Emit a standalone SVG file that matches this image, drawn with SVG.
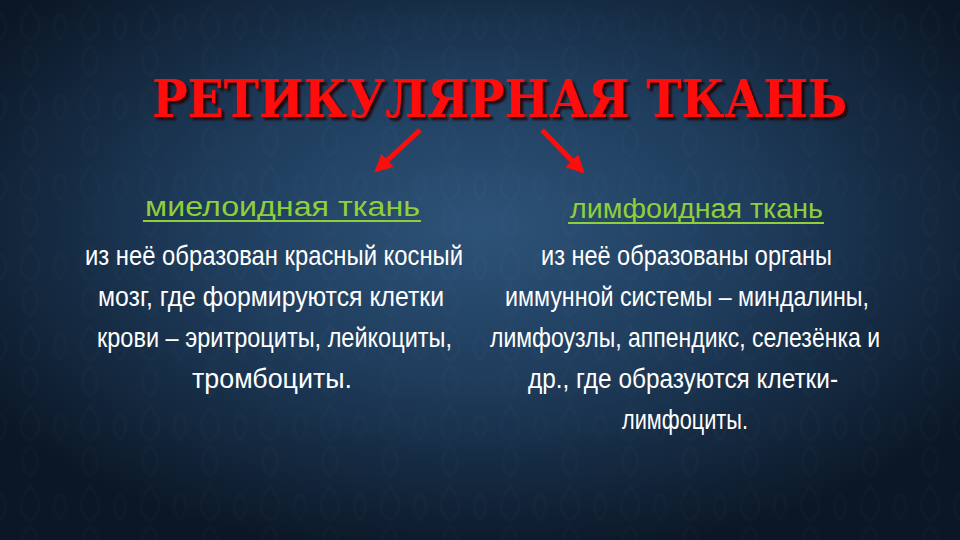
<svg xmlns="http://www.w3.org/2000/svg" width="960" height="540" viewBox="0 0 960 540">
  <defs>
    <radialGradient id="bg" cx="0.5" cy="0.42" r="0.62">
      <stop offset="0" stop-color="#2d5378"/>
      <stop offset="0.45" stop-color="#1f3d5d"/>
      <stop offset="1" stop-color="#0b1726"/>
    </radialGradient>
    <pattern id="damask" width="60" height="80" patternUnits="userSpaceOnUse">
      <path d="M30 6 C42 20 42 34 30 40 C18 34 18 20 30 6 Z M30 46 C40 56 40 68 30 76 C20 68 20 56 30 46 Z M0 40 C8 30 8 20 0 14 M60 40 C52 30 52 20 60 14" fill="none" stroke="#ffffff" stroke-opacity="0.012" stroke-width="3"/>
    </pattern>
    <filter id="shadow" x="-5%" y="-20%" width="110%" height="150%">
      <feDropShadow dx="3" dy="3" stdDeviation="1" flood-color="#200404" flood-opacity="0.9"/>
    </filter>
    <marker id="head" viewBox="0 0 10 10" refX="8" refY="5" markerWidth="3.6" markerHeight="3.6" orient="auto" markerUnits="strokeWidth">
      <path d="M0 0 L10 5 L0 10 Z" fill="#ff0d0d"/>
    </marker>
    <style>
      .title { font-family: "DejaVu Serif", "Liberation Serif", serif; font-weight: bold; font-size: 52px; fill: #ff0a0a; }
      .sub { font-family: "Liberation Sans", "DejaVu Sans", sans-serif; font-size: 27px; fill: #8fcf3a; }
      .body { font-family: "Liberation Sans Narrow", "Liberation Sans", sans-serif; font-size: 28px; fill: #ffffff; }
      .arrow { stroke: #ff0d0d; stroke-width: 5; fill: none; marker-end: url(#head); }
      .ul { stroke: #8fcf3a; stroke-width: 2; }
    </style>
  </defs>

  <rect width="960" height="540" fill="url(#bg)"/>
  <rect width="960" height="540" fill="url(#damask)"/>

  <g id="title">
    <text class="title" x="152" y="117" filter="url(#shadow)" textLength="695" lengthAdjust="spacingAndGlyphs">РЕТИКУЛЯРНАЯ ТКАНЬ</text>
  </g>

  <g id="connectors">
    <line class="arrow" x1="420" y1="130" x2="377" y2="170"/>
    <line class="arrow" x1="542" y1="130" x2="582" y2="171"/>
  </g>

  <g id="myeloid">
    <text class="sub" x="145" y="216" textLength="275" lengthAdjust="spacingAndGlyphs">миелоидная ткань</text>
    <line class="ul" x1="143" y1="221" x2="421" y2="221"/>
    <text class="body" x="85" y="265" textLength="378" lengthAdjust="spacingAndGlyphs">из неё образован красный косный</text>
    <text class="body" x="98" y="306" textLength="346" lengthAdjust="spacingAndGlyphs">мозг, где формируются клетки</text>
    <text class="body" x="97" y="347" textLength="355" lengthAdjust="spacingAndGlyphs">крови – эритроциты, лейкоциты,</text>
    <text class="body" x="192" y="388" textLength="160" lengthAdjust="spacingAndGlyphs">тромбоциты.</text>
  </g>

  <g id="lymphoid">
    <text class="sub" x="570" y="218" textLength="253" lengthAdjust="spacingAndGlyphs">лимфоидная ткань</text>
    <line class="ul" x1="568" y1="223" x2="824" y2="223"/>
    <text class="body" x="541" y="265" textLength="291" lengthAdjust="spacingAndGlyphs">из неё образованы органы</text>
    <text class="body" x="505" y="306" textLength="364" lengthAdjust="spacingAndGlyphs">иммунной системы – миндалины,</text>
    <text class="body" x="490" y="347" textLength="390" lengthAdjust="spacingAndGlyphs">лимфоузлы, аппендикс, селезёнка и</text>
    <text class="body" x="528" y="388" textLength="310" lengthAdjust="spacingAndGlyphs">др., где образуются клетки-</text>
    <text class="body" x="622" y="429" textLength="126" lengthAdjust="spacingAndGlyphs">лимфоциты.</text>
  </g>
</svg>
